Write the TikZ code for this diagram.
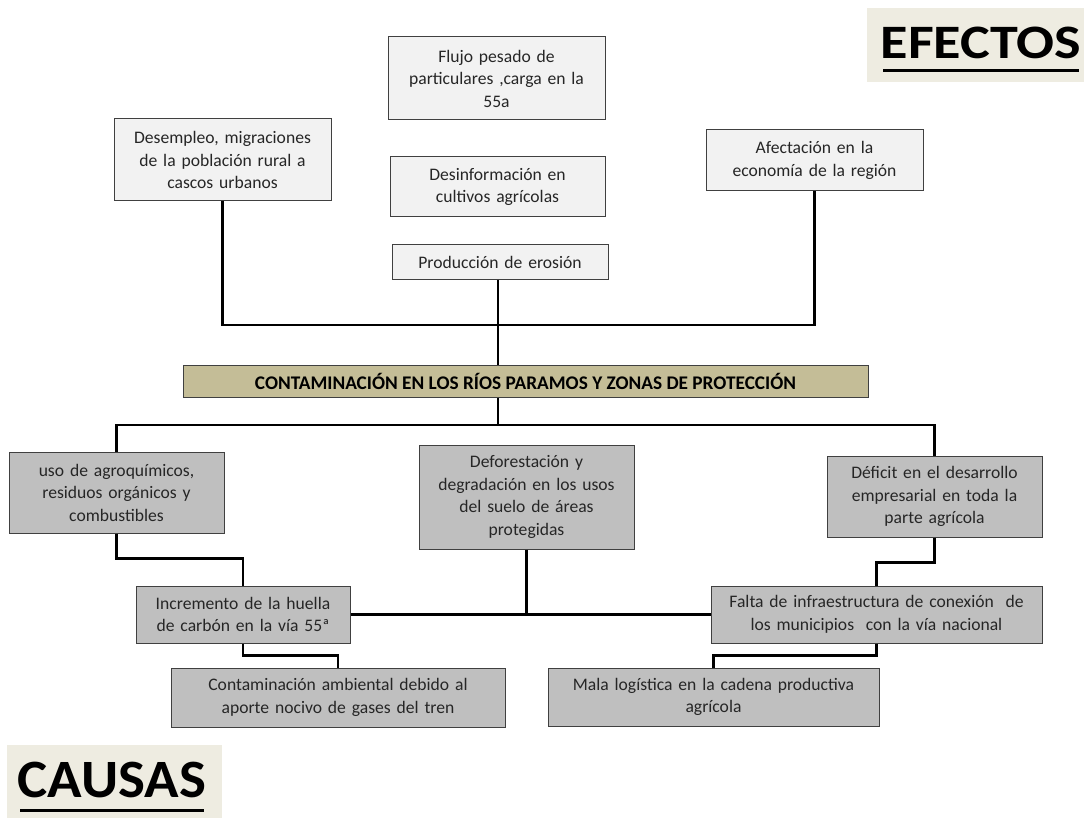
\documentclass[tikz,border=0pt]{standalone}
\usepackage{fontspec}
\setmainfont{Carlito}
\definecolor{effill}{HTML}{F2F2F2}
\definecolor{caufill}{HTML}{BFBFBF}
\definecolor{tanfill}{HTML}{C4BD97}
\definecolor{titlebg}{HTML}{EEECE1}
\definecolor{edge}{HTML}{404040}
\definecolor{txt}{HTML}{262626}
\begin{document}
\begin{tikzpicture}[x=1pt,y=-1pt,
  box/.style={draw=edge, line width=1pt, align=center, inner sep=0pt, text=txt,
    font=\fontsize{17.6}{22.5}\selectfont},
  eff/.style={box, fill=effill},
  cau/.style={box, fill=caufill},
  conn/.style={line width=2.8pt, black},
  title/.style={fill=titlebg, inner sep=0pt}
]
\useasboundingbox (0,0) rectangle (1087,818);

% titles
\node[title, minimum width=217pt, minimum height=74pt] (efectos) at (975,45) {};
\node[font=\fontsize{48}{52}\bfseries\selectfont, anchor=base, inner sep=0pt] (efectosT) at (981,59) {\scalebox{1.17}[1]{EFECTOS}};
\draw[line width=3pt] (883,71) -- (1079,71);
\node[title, minimum width=215pt, minimum height=74pt] (causas) at (114.5,782) {};
\node[font=\fontsize{54}{58}\bfseries\selectfont, anchor=base, inner sep=0pt] (causasT) at (112,797) {\scalebox{1.055}[1]{CAUSAS}};
\draw[line width=3pt] (20,810) -- (204,810);

% effects
\node[eff, minimum width=217pt, minimum height=83pt, text width=210pt] (flujo) at (496.5,78.5)
  {Flujo pesado de\\particulares ,carga en la\\55a};
\node[eff, minimum width=215pt, minimum height=60pt, text width=210pt] (desinfo) at (497.5,187)
  {Desinformación en\\cultivos agrícolas};
\node[eff, minimum width=216pt, minimum height=35pt, text width=210pt] (prod) at (500,262.5)
  {Producción de erosión};
\node[eff, minimum width=217pt, minimum height=82pt, text width=210pt] (desemp) at (222.5,160)
  {Desempleo, migraciones\\de la población rural a\\cascos urbanos};
\node[eff, minimum width=217pt, minimum height=61pt, text width=210pt] (afec) at (814.5,160.5)
  {Afectación en la\\economía de la región};

% central
\node[box, fill=tanfill, minimum width=685pt, minimum height=32pt, text=black,
  font=\fontsize{19.3}{20}\bfseries\selectfont] (central) at (525.5,381)
  {CONTAMINACIÓN EN LOS RÍOS PARAMOS Y ZONAS DE PROTECCIÓN};

% causes
\node[cau, minimum width=215pt, minimum height=81pt, text width=210pt] (uso) at (116.5,492.5)
  {uso de agroquímicos,\\residuos orgánicos y\\combustibles};
\node[cau, minimum width=215pt, minimum height=104pt, text width=210pt] (defor) at (526.5,497)
  {Deforestación y\\degradación en los usos\\del suelo de áreas\\protegidas};
\node[cau, minimum width=215pt, minimum height=81pt, text width=210pt] (deficit) at (934.5,496.5)
  {Déficit en el desarrollo\\empresarial en toda la\\parte agrícola};
\node[cau, minimum width=214pt, minimum height=57pt, text width=210pt] (incr) at (243,614.5)
  {Incremento de la huella\\de carbón en la vía 55ª};
\node[cau, minimum width=331pt, minimum height=57pt, text width=325pt] (falta) at (876.5,614.5)
  {Falta de infraestructura de conexión\ \ de\\los municipios\ \ con la vía nacional};
\node[cau, minimum width=334pt, minimum height=59pt, text width=325pt] (contam) at (338,697.5)
  {Contaminación ambiental debido al\\aporte nocivo de gases del tren};
\node[cau, minimum width=331pt, minimum height=58pt, text width=325pt] (mala) at (713.5,697)
  {Mala logística en la cadena productiva\\agrícola};

% connectors top
\coordinate (hub1) at (498,325);
\draw[conn] (desemp.south) |- (hub1);
\draw[conn] (afec.south) |- (hub1);
\draw[conn] (prod.south -| hub1) -- (hub1);
\draw[conn] (hub1) -- (hub1 |- central.north);

% connectors bottom
\coordinate (hub2) at (498,425);
\draw[conn] (central.south -| hub2) -- (hub2);
\draw[conn] (uso.north) |- (hub2);
\draw[conn] (deficit.north) |- (hub2);

\draw[conn] (uso.south) -- ++(0,25) -| (incr.north);
\draw[conn] (incr.south) -- ++(0,12) -| (contam.north);
\draw[conn] (deficit.south) -- ++(0,25) -| (falta.north);
\draw[conn] (falta.south) -- ++(0,12) -| (mala.north);
\draw[conn] (incr.east) -- (falta.west);
\draw[conn] (defor.south) -- (defor.south |- falta.west);
\end{tikzpicture}
\end{document}
